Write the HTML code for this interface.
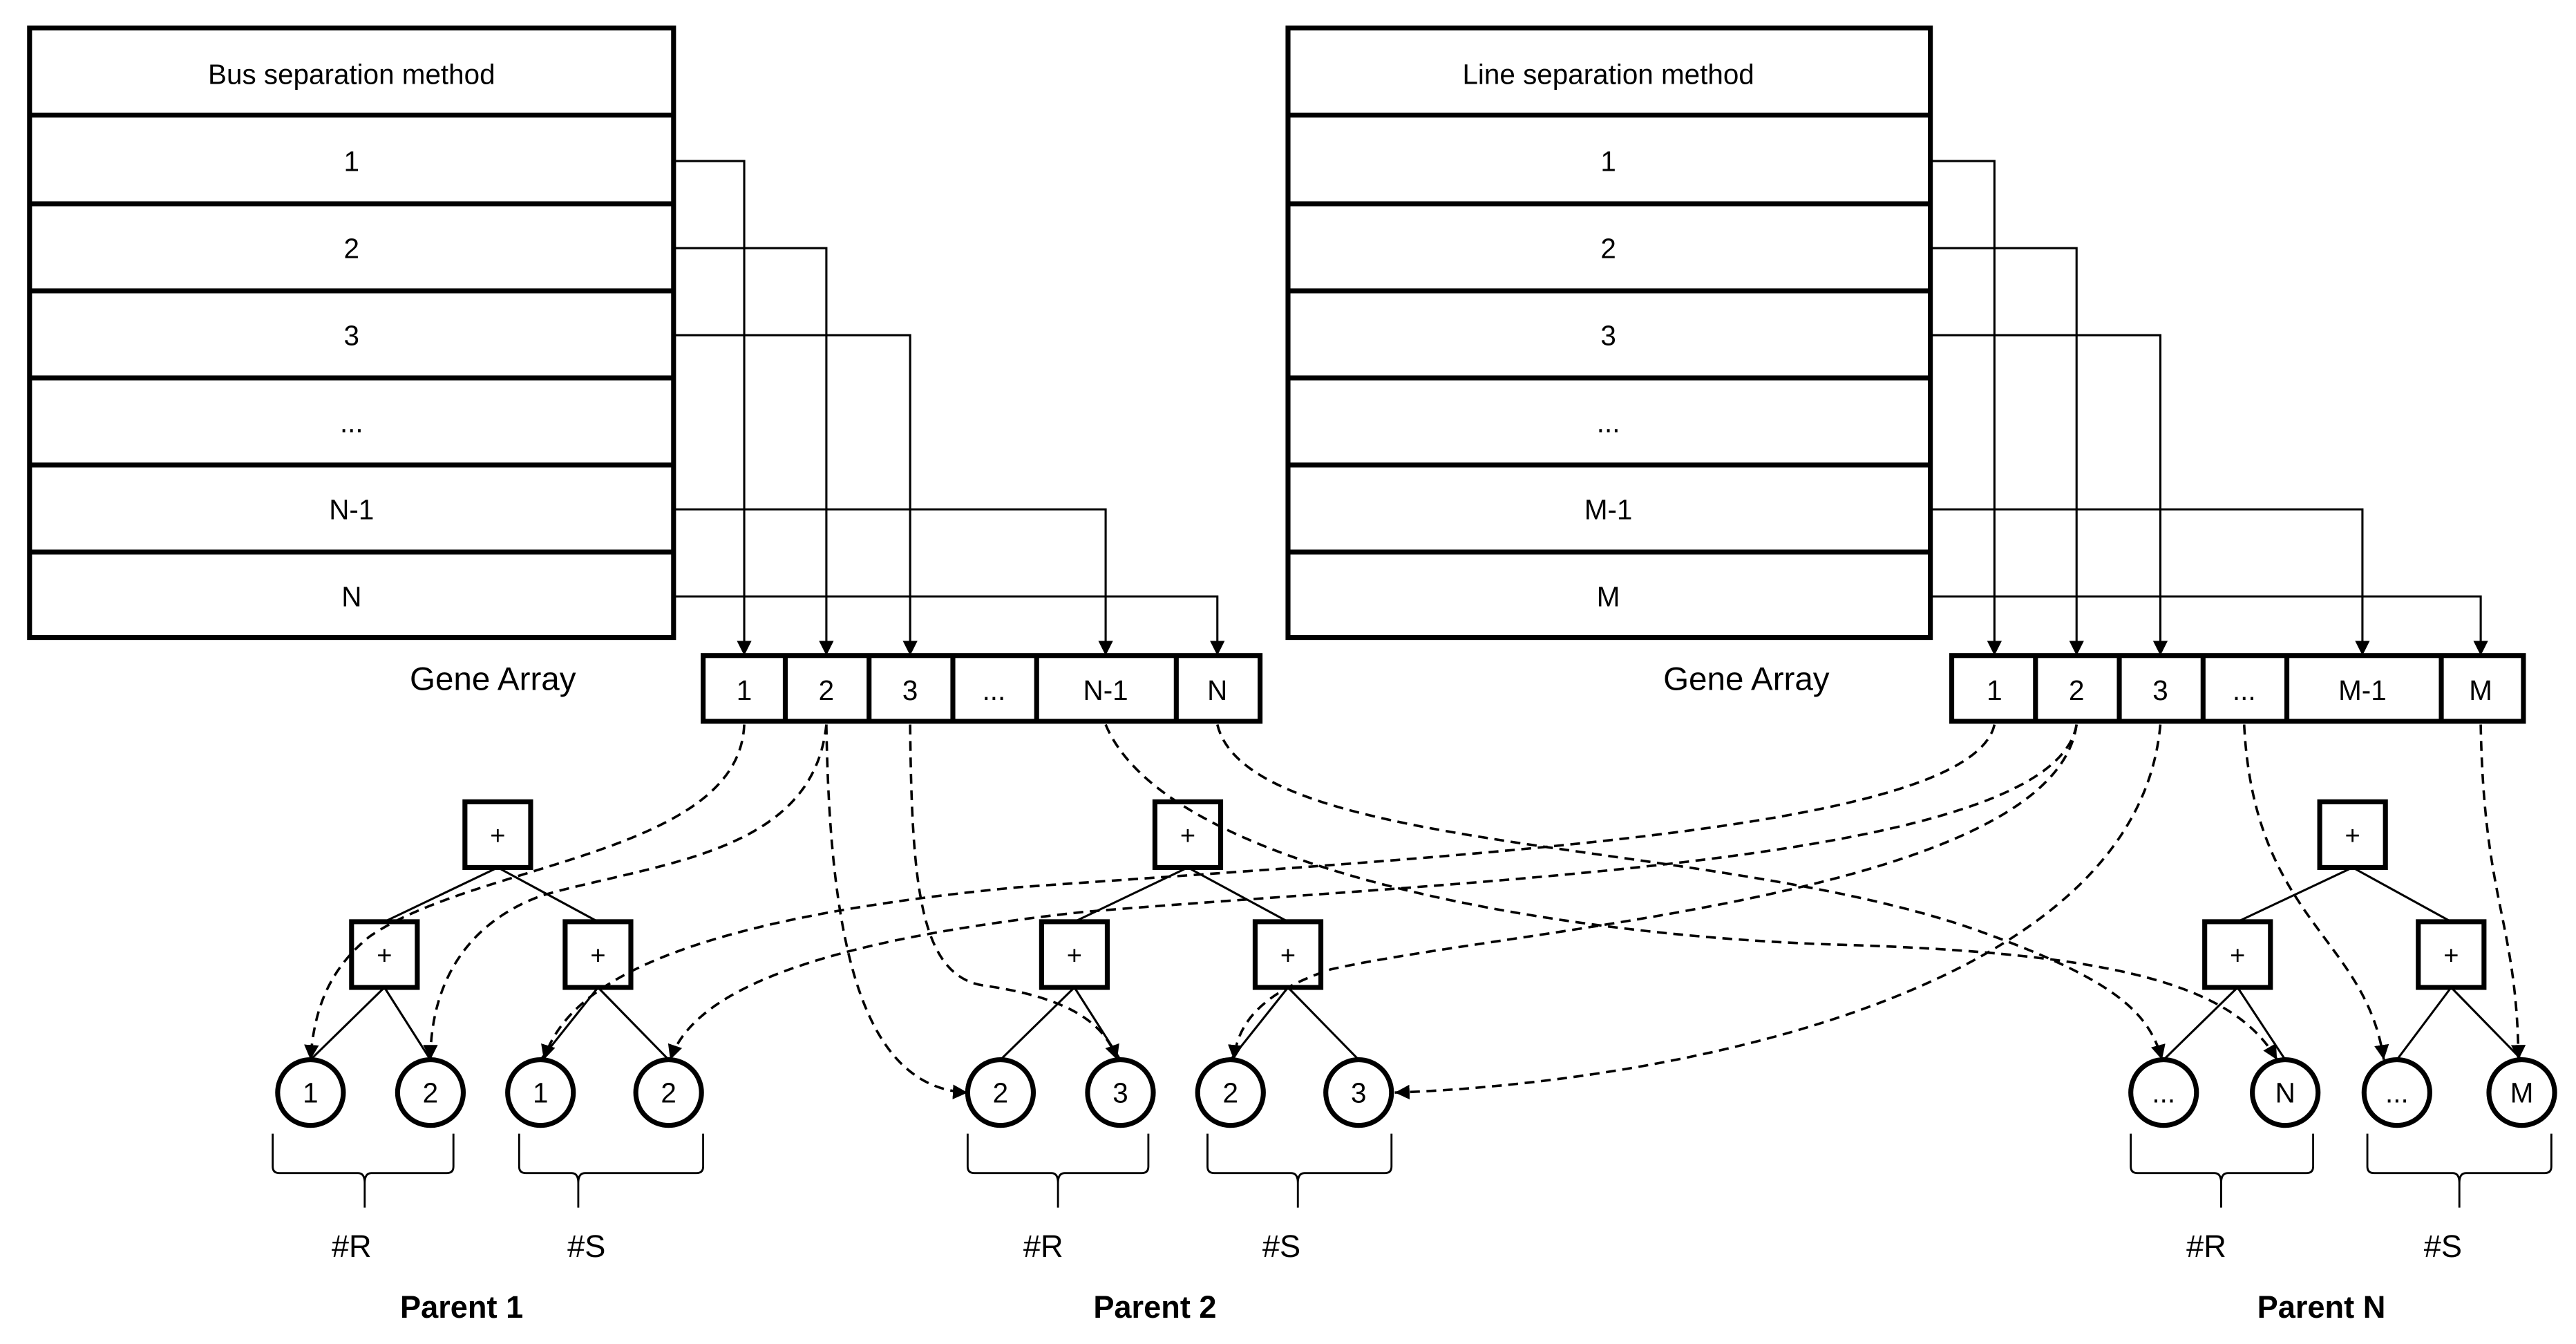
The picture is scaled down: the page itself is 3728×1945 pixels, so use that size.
<!DOCTYPE html>
<html><head><meta charset="utf-8"><style>
html,body{margin:0;padding:0;background:#fff;}
svg{display:block;}
text{font-family:"Liberation Sans",sans-serif;fill:#000;}
</style></head><body>
<svg width="3728" height="1945" viewBox="0 0 1568 818" xmlns="http://www.w3.org/2000/svg">
<defs>
<marker id="a" viewBox="0 0 10 10" refX="10" refY="5" markerWidth="9" markerHeight="9" markerUnits="userSpaceOnUse" orient="auto"><path d="M0,0L10,5L0,10z" fill="#000"/></marker>
</defs>
<g fill="#fff" stroke="#000" stroke-width="3">
<rect x="18" y="17" width="392" height="371"/>
<rect x="784" y="17" width="391" height="371"/>
</g>
<g stroke="#000" stroke-width="3">
<path d="M18 70H410M18 124H410M18 177H410M18 230H410M18 283H410M18 336H410"/>
<path d="M784 70H1175M784 124H1175M784 177H1175M784 230H1175M784 283H1175M784 336H1175"/>
</g>
<g font-size="17" text-anchor="middle">
<text x="214" y="51">Bus separation method</text>
<text x="214" y="104">1</text><text x="214" y="157">2</text><text x="214" y="210">3</text><text x="214" y="263">...</text><text x="214" y="316">N-1</text><text x="214" y="369">N</text>
<text x="979" y="51">Line separation method</text>
<text x="979" y="104">1</text><text x="979" y="157">2</text><text x="979" y="210">3</text><text x="979" y="263">...</text><text x="979" y="316">M-1</text><text x="979" y="369">M</text>
</g>
<g fill="none" stroke="#000" stroke-width="1.3" marker-end="url(#a)">
<path d="M410 98H453V399"/><path d="M410 151H503V399"/><path d="M410 204H554V399"/><path d="M410 310H673V399"/><path d="M410 363H741V399"/>
<path d="M1175 98H1214V399"/><path d="M1175 151H1264V399"/><path d="M1175 204H1315V399"/><path d="M1175 310H1438V399"/><path d="M1175 363H1510V399"/>
</g>
<g fill="#fff" stroke="#000" stroke-width="3">
<rect x="428" y="399" width="339" height="40"/>
<rect x="1188" y="399" width="348" height="40"/>
</g>
<g stroke="#000" stroke-width="3">
<path d="M478 399V439M529 399V439M580 399V439M631 399V439M716 399V439"/>
<path d="M1239 399V439M1290 399V439M1341 399V439M1392 399V439M1486 399V439"/>
</g>
<g font-size="17" text-anchor="middle">
<text x="453" y="426">1</text><text x="503" y="426">2</text><text x="554" y="426">3</text><text x="605" y="426">...</text><text x="673" y="426">N-1</text><text x="741" y="426">N</text>
<text x="1214" y="426">1</text><text x="1264" y="426">2</text><text x="1315" y="426">3</text><text x="1366" y="426">...</text><text x="1438" y="426">M-1</text><text x="1510" y="426">M</text>
<text x="300" y="420" font-size="20">Gene Array</text>
<text x="1063" y="420" font-size="20">Gene Array</text>
</g>
<!-- trees -->
<g id="t" stroke="#000">
</g>
<g stroke="#000" stroke-width="1.3" fill="none">
<path d="M303 528L234 561M303 528L364 561M234 601L189 645M234 601L262 645M364 601L329 645M364 601L407 645"/>
<path d="M723 528L654 561M723 528L784 561M654 601L609 645M654 601L682 645M784 601L749 645M784 601L827 645"/>
<path d="M1432 528L1362 561M1432 528L1492 561M1362 601L1317 645M1362 601L1391 645M1492 601L1459 645M1492 601L1535 645"/>
</g>
<g fill="#fff" stroke="#000" stroke-width="3">
<rect x="283" y="488" width="40" height="40"/><rect x="214" y="561" width="40" height="40"/><rect x="344" y="561" width="40" height="40"/>
<rect x="703" y="488" width="40" height="40"/><rect x="634" y="561" width="40" height="40"/><rect x="764" y="561" width="40" height="40"/>
<rect x="1412" y="488" width="40" height="40"/><rect x="1342" y="561" width="40" height="40"/><rect x="1472" y="561" width="40" height="40"/>
<circle cx="189" cy="665" r="20"/><circle cx="262" cy="665" r="20"/><circle cx="329" cy="665" r="20"/><circle cx="407" cy="665" r="20"/>
<circle cx="609" cy="665" r="20"/><circle cx="682" cy="665" r="20"/><circle cx="749" cy="665" r="20"/><circle cx="827" cy="665" r="20"/>
<circle cx="1317" cy="665" r="20"/><circle cx="1391" cy="665" r="20"/><circle cx="1459" cy="665" r="20"/><circle cx="1535" cy="665" r="20"/>
</g>
<g font-size="16" text-anchor="middle">
<text x="303" y="514">+</text><text x="234" y="587">+</text><text x="364" y="587">+</text>
<text x="723" y="514">+</text><text x="654" y="587">+</text><text x="784" y="587">+</text>
<text x="1432" y="514">+</text><text x="1362" y="587">+</text><text x="1492" y="587">+</text>
<g font-size="17">
<text x="189" y="671">1</text><text x="262" y="671">2</text><text x="329" y="671">1</text><text x="407" y="671">2</text>
<text x="609" y="671">2</text><text x="682" y="671">3</text><text x="749" y="671">2</text><text x="827" y="671">3</text>
<text x="1317" y="671">...</text><text x="1391" y="671">N</text><text x="1459" y="671">...</text><text x="1535" y="671">M</text>
</g>
</g>
<!-- braces -->
<g fill="none" stroke="#000" stroke-width="1.2">
<path d="M166 690V710Q166 714 170 714H218Q222 714 222 720V735M276 690V710Q276 714 272 714H226Q222 714 222 720"/>
<path d="M316 690V710Q316 714 320 714H348Q352 714 352 720V735M428 690V710Q428 714 424 714H356Q352 714 352 720"/>
<path d="M589 690V710Q589 714 593 714H640Q644 714 644 720V735M699 690V710Q699 714 695 714H648Q644 714 644 720"/>
<path d="M735 690V710Q735 714 739 714H786Q790 714 790 720V735M847 690V710Q847 714 843 714H794Q790 714 790 720"/>
<path d="M1297 690V710Q1297 714 1301 714H1348Q1352 714 1352 720V735M1408 690V710Q1408 714 1404 714H1356Q1352 714 1352 720"/>
<path d="M1441 690V710Q1441 714 1445 714H1493Q1497 714 1497 720V735M1553 690V710Q1553 714 1549 714H1501Q1497 714 1497 720"/>
</g>
<g font-size="19" text-anchor="middle">
<text x="214" y="765">#R</text><text x="357" y="765">#S</text>
<text x="635" y="765">#R</text><text x="780" y="765">#S</text>
<text x="1343" y="765">#R</text><text x="1487" y="765">#S</text>
<g font-weight="bold" font-size="19">
<text x="281" y="802">Parent 1</text><text x="703" y="802">Parent 2</text><text x="1413" y="802">Parent N</text>
</g>
</g>
<!-- dashed -->
<g fill="none" stroke="#000" stroke-width="1.5" stroke-dasharray="6,4" marker-end="url(#a)">
<path d="M453 441C450 520 290 525 225 570C200 590 191 615 189 645"/>
<path d="M503 441C495 520 400 525 330 545C275 565 262 610 262 645"/>
<path d="M503 441C505 560 520 662 589 665"/>
<path d="M554 441C555 540 560 595 600 600C655 608 673 625 680 645"/>
<path d="M673 441C710 530 950 570 1120 575C1290 580 1360 600 1386 645"/>
<path d="M741 441C760 520 1040 510 1200 565C1285 595 1308 615 1316 645"/>
<path d="M1214 441C1200 505 900 520 620 540C410 560 345 600 331 645"/>
<path d="M1264 441C1250 525 900 535 660 555C475 575 420 610 408 645"/>
<path d="M1264 441C1250 545 920 565 810 590C765 605 753 625 751 645"/>
<path d="M1315 441C1300 610 1000 660 849 665"/>
<path d="M1366 441C1372 560 1440 570 1451 645"/>
<path d="M1510 441C1512 550 1532 560 1533 645"/>
</g>
</svg>
</body></html>
